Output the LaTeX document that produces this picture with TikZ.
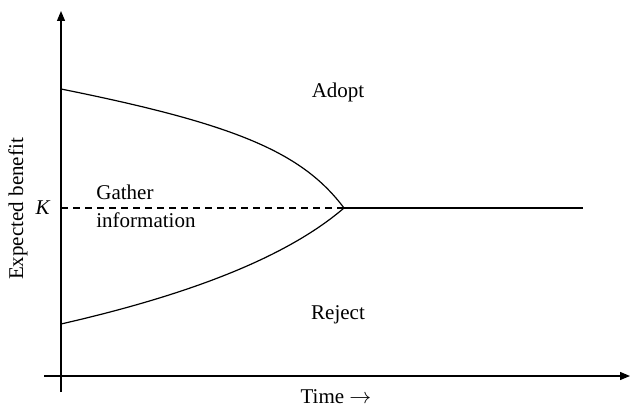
\documentclass[tikz,border=0pt]{standalone}
\usepackage{fontspec}
\setmainfont{Liberation Serif}
\usetikzlibrary{arrows.meta}
\tikzset{
  axis/.style={line width=0.6pt,-{Triangle[length=5pt,width=4pt]}},
  curve/.style={line width=0.6pt},
  lbl/.style={font=\fontsize{10.5}{14}\selectfont,inner sep=0pt}
}
\begin{document}
\begin{tikzpicture}[x=0.5pt,y=-0.5pt]
  \useasboundingbox (0,0) rectangle (631,406);
  % axes
  \coordinate (ybot) at (61,392);
  \coordinate (ytop) at (61,11);
  \coordinate (xleft) at (44,376);
  \coordinate (xright) at (630,376);
  \draw[axis] (ybot) -- (ytop);
  \draw[axis] (xleft) -- (xright);
  % threshold K and the meeting point
  \coordinate (k) at (61,208);
  \coordinate (meet) at (344,208);
  \coordinate (kend) at (583,208);
  \coordinate (up) at (61,89);
  \coordinate (low) at (61,324);
  \draw[curve,dash pattern=on 3.5pt off 2.5pt] (k) -- (meet);
  \draw[curve] (meet) -- (kend);
  % upper and lower boundaries
  \draw[curve] (up) .. controls (235,124) and (302,152) .. (meet);
  \draw[curve] (low) .. controls (210,290) and (295,250) .. (meet);
  % labels
  \node[lbl] (klbl) at (43,208) {\textit{K}};
  \node[lbl,align=left,anchor=west] (gather) at (96,206) {Gather\\information};
  \node[lbl] (adopt) at (338,92) {Adopt};
  \node[lbl] (reject) at (338,315) {Reject};
  \node[lbl] (time) at (336,397) {Time $\rightarrow$};
  \node[lbl,rotate=90] (ylbl) at (18,209) {Expected benefit};
\end{tikzpicture}
\end{document}
